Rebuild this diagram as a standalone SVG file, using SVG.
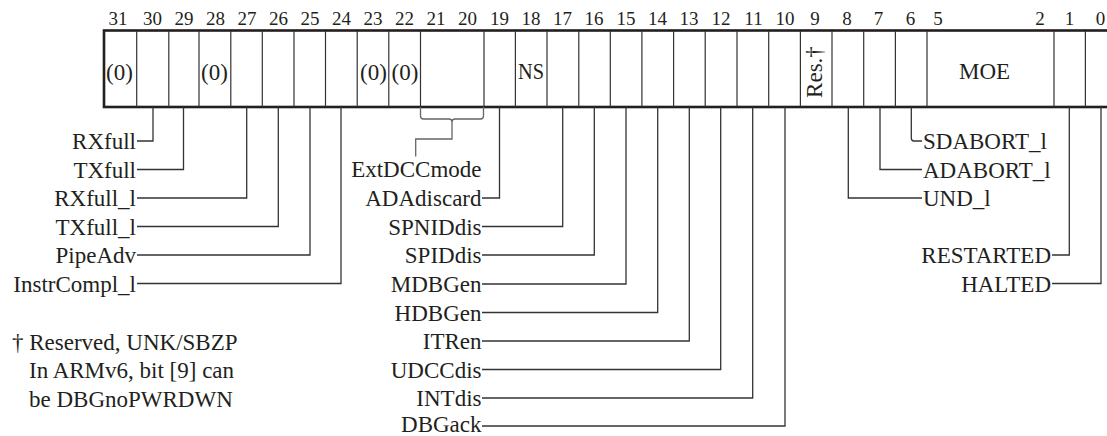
<svg xmlns="http://www.w3.org/2000/svg" width="1107" height="436" viewBox="0 0 1107 436">
<style>
text{font-family:"Liberation Serif","Times New Roman",serif;fill:#231f20}
.bn{font-size:19px;text-anchor:middle}
.cell{font-size:23px;text-anchor:middle}
.lbl{font-size:23px}
.r{text-anchor:end}
.sep{stroke:#333;stroke-width:1.2;fill:none}
.box{stroke:#231f20;stroke-width:2.6;fill:#fff}
.ld{stroke:#333;stroke-width:1.3;fill:none}
.br{stroke:#666;stroke-width:1.3;fill:none}
</style>
<rect width="1107" height="436" fill="#fff"/>
<g id="bitnumbers">
<text class="bn" x="118" y="25">31</text>
<text class="bn" x="152.5" y="25">30</text>
<text class="bn" x="184" y="25">29</text>
<text class="bn" x="215.5" y="25">28</text>
<text class="bn" x="247" y="25">27</text>
<text class="bn" x="278.5" y="25">26</text>
<text class="bn" x="310" y="25">25</text>
<text class="bn" x="341.5" y="25">24</text>
<text class="bn" x="373" y="25">23</text>
<text class="bn" x="404.5" y="25">22</text>
<text class="bn" x="436" y="25">21</text>
<text class="bn" x="467.5" y="25">20</text>
<text class="bn" x="499.5" y="25">19</text>
<text class="bn" x="531" y="25">18</text>
<text class="bn" x="562.5" y="25">17</text>
<text class="bn" x="594" y="25">16</text>
<text class="bn" x="626" y="25">15</text>
<text class="bn" x="657.5" y="25">14</text>
<text class="bn" x="689" y="25">13</text>
<text class="bn" x="721" y="25">12</text>
<text class="bn" x="753.5" y="25">11</text>
<text class="bn" x="785" y="25">10</text>
<text class="bn" x="815" y="25">9</text>
<text class="bn" x="847" y="25">8</text>
<text class="bn" x="878.5" y="25">7</text>
<text class="bn" x="910.5" y="25">6</text>
<text class="bn" x="938" y="25">5</text>
<text class="bn" x="1040" y="25">2</text>
<text class="bn" x="1069.5" y="25">1</text>
<text class="bn" x="1100.5" y="25">0</text>
</g>
<g id="register">
<rect class="box" x="104" y="30.5" width="1020" height="76.5"/>
<path class="sep" d="M136.7 31V107M168.8 31V107M199 31V107M230.8 31V107M262.3 31V107M294 31V107M325.5 31V107M357.2 31V107M388.8 31V107M420.5 31V107M484 31V107M515.4 31V107M547 31V107M578.8 31V107M610.3 31V107M641.9 31V107M673.6 31V107M705.2 31V107M737 31V107M768.7 31V107M800.4 31V107M832 31V107M863.7 31V107M895.4 31V107M927 31V107M1054 31V107M1085.4 31V107"/>
<text class="cell" x="119.5" y="79.5">(0)</text>
<text class="cell" x="214.5" y="79.5">(0)</text>
<text class="cell" x="373.5" y="79.5">(0)</text>
<text class="cell" x="405" y="79.5">(0)</text>
<text class="cell" x="531" y="79" textLength="26" lengthAdjust="spacingAndGlyphs">NS</text>
<text class="cell" x="984.5" y="79">MOE</text>
<text class="cell" transform="translate(821.5 72) rotate(-90)" x="0" y="0">Res.†</text>
</g>
<g id="connectors">
<path class="br" d="M420.5 107V116Q420.5 119 423.5 119H449Q452 119 452 122V139H415.7V156.5M452 122Q452 119 455 119H480.5Q483.5 119 483.5 116V107"/>
<path class="ld" d="M137 141H153V107"/>
<path class="ld" d="M137 169.5H183.5V107"/>
<path class="ld" d="M137 198H246.7V107"/>
<path class="ld" d="M137 226.5H278.3V107"/>
<path class="ld" d="M137 255H310V107"/>
<path class="ld" d="M137 283.5H341V107"/>
<path class="ld" d="M482 198H499.5V107"/>
<path class="ld" d="M482 226.5H562.7V107"/>
<path class="ld" d="M482 255H594.3V107"/>
<path class="ld" d="M482 284H626V107"/>
<path class="ld" d="M482 312.5H657.7V107"/>
<path class="ld" d="M482 341H689.3V107"/>
<path class="ld" d="M482 369.5H720.7V107"/>
<path class="ld" d="M482 398H752.7V107"/>
<path class="ld" d="M482 426H785V107"/>
<path class="ld" d="M922 141H914Q911.3 141 911.3 138V107"/>
<path class="ld" d="M922 169.5H880V107"/>
<path class="ld" d="M922 198H848.3V107"/>
<path class="ld" d="M1052 255H1069.3V107"/>
<path class="ld" d="M1052 283.5H1101V107"/>
</g>
<g id="RXfull"><text class="lbl r" x="136" y="149">RXfull</text></g>
<g id="TXfull"><text class="lbl r" x="136" y="177.5">TXfull</text></g>
<g id="RXfull_l"><text class="lbl r" x="136" y="206">RXfull_l</text></g>
<g id="TXfull_l"><text class="lbl r" x="136" y="234.5">TXfull_l</text></g>
<g id="PipeAdv"><text class="lbl r" x="136" y="263">PipeAdv</text></g>
<g id="InstrCompl_l"><text class="lbl r" x="136" y="291.5">InstrCompl_l</text></g>
<g id="ExtDCCmode"><text class="lbl r" x="481.5" y="177">ExtDCCmode</text></g>
<g id="ADAdiscard"><text class="lbl r" x="481.5" y="206">ADAdiscard</text></g>
<g id="SPNIDdis"><text class="lbl r" x="481.5" y="234.5">SPNIDdis</text></g>
<g id="SPIDdis"><text class="lbl r" x="481.5" y="263">SPIDdis</text></g>
<g id="MDBGen"><text class="lbl r" x="481.5" y="292">MDBGen</text></g>
<g id="HDBGen"><text class="lbl r" x="481.5" y="320.5">HDBGen</text></g>
<g id="ITRen"><text class="lbl r" x="481.5" y="349">ITRen</text></g>
<g id="UDCCdis"><text class="lbl r" x="481.5" y="377.5">UDCCdis</text></g>
<g id="INTdis"><text class="lbl r" x="481.5" y="406">INTdis</text></g>
<g id="DBGack"><text class="lbl r" x="481.5" y="431.5">DBGack</text></g>
<g id="SDABORT_l"><text class="lbl" x="923" y="149">SDABORT_l</text></g>
<g id="ADABORT_l"><text class="lbl" x="923" y="177.5">ADABORT_l</text></g>
<g id="UND_l"><text class="lbl" x="923" y="206">UND_l</text></g>
<g id="RESTARTED"><text class="lbl r" x="1051" y="263">RESTARTED</text></g>
<g id="HALTED"><text class="lbl r" x="1051" y="291.5">HALTED</text></g>
<g id="footnote">
<text class="lbl" x="12" y="350">† Reserved, UNK/SBZP</text>
<text class="lbl" x="29" y="378">In ARMv6, bit [9] can</text>
<text class="lbl" x="29" y="406.5">be DBGnoPWRDWN</text>
</g>
</svg>
